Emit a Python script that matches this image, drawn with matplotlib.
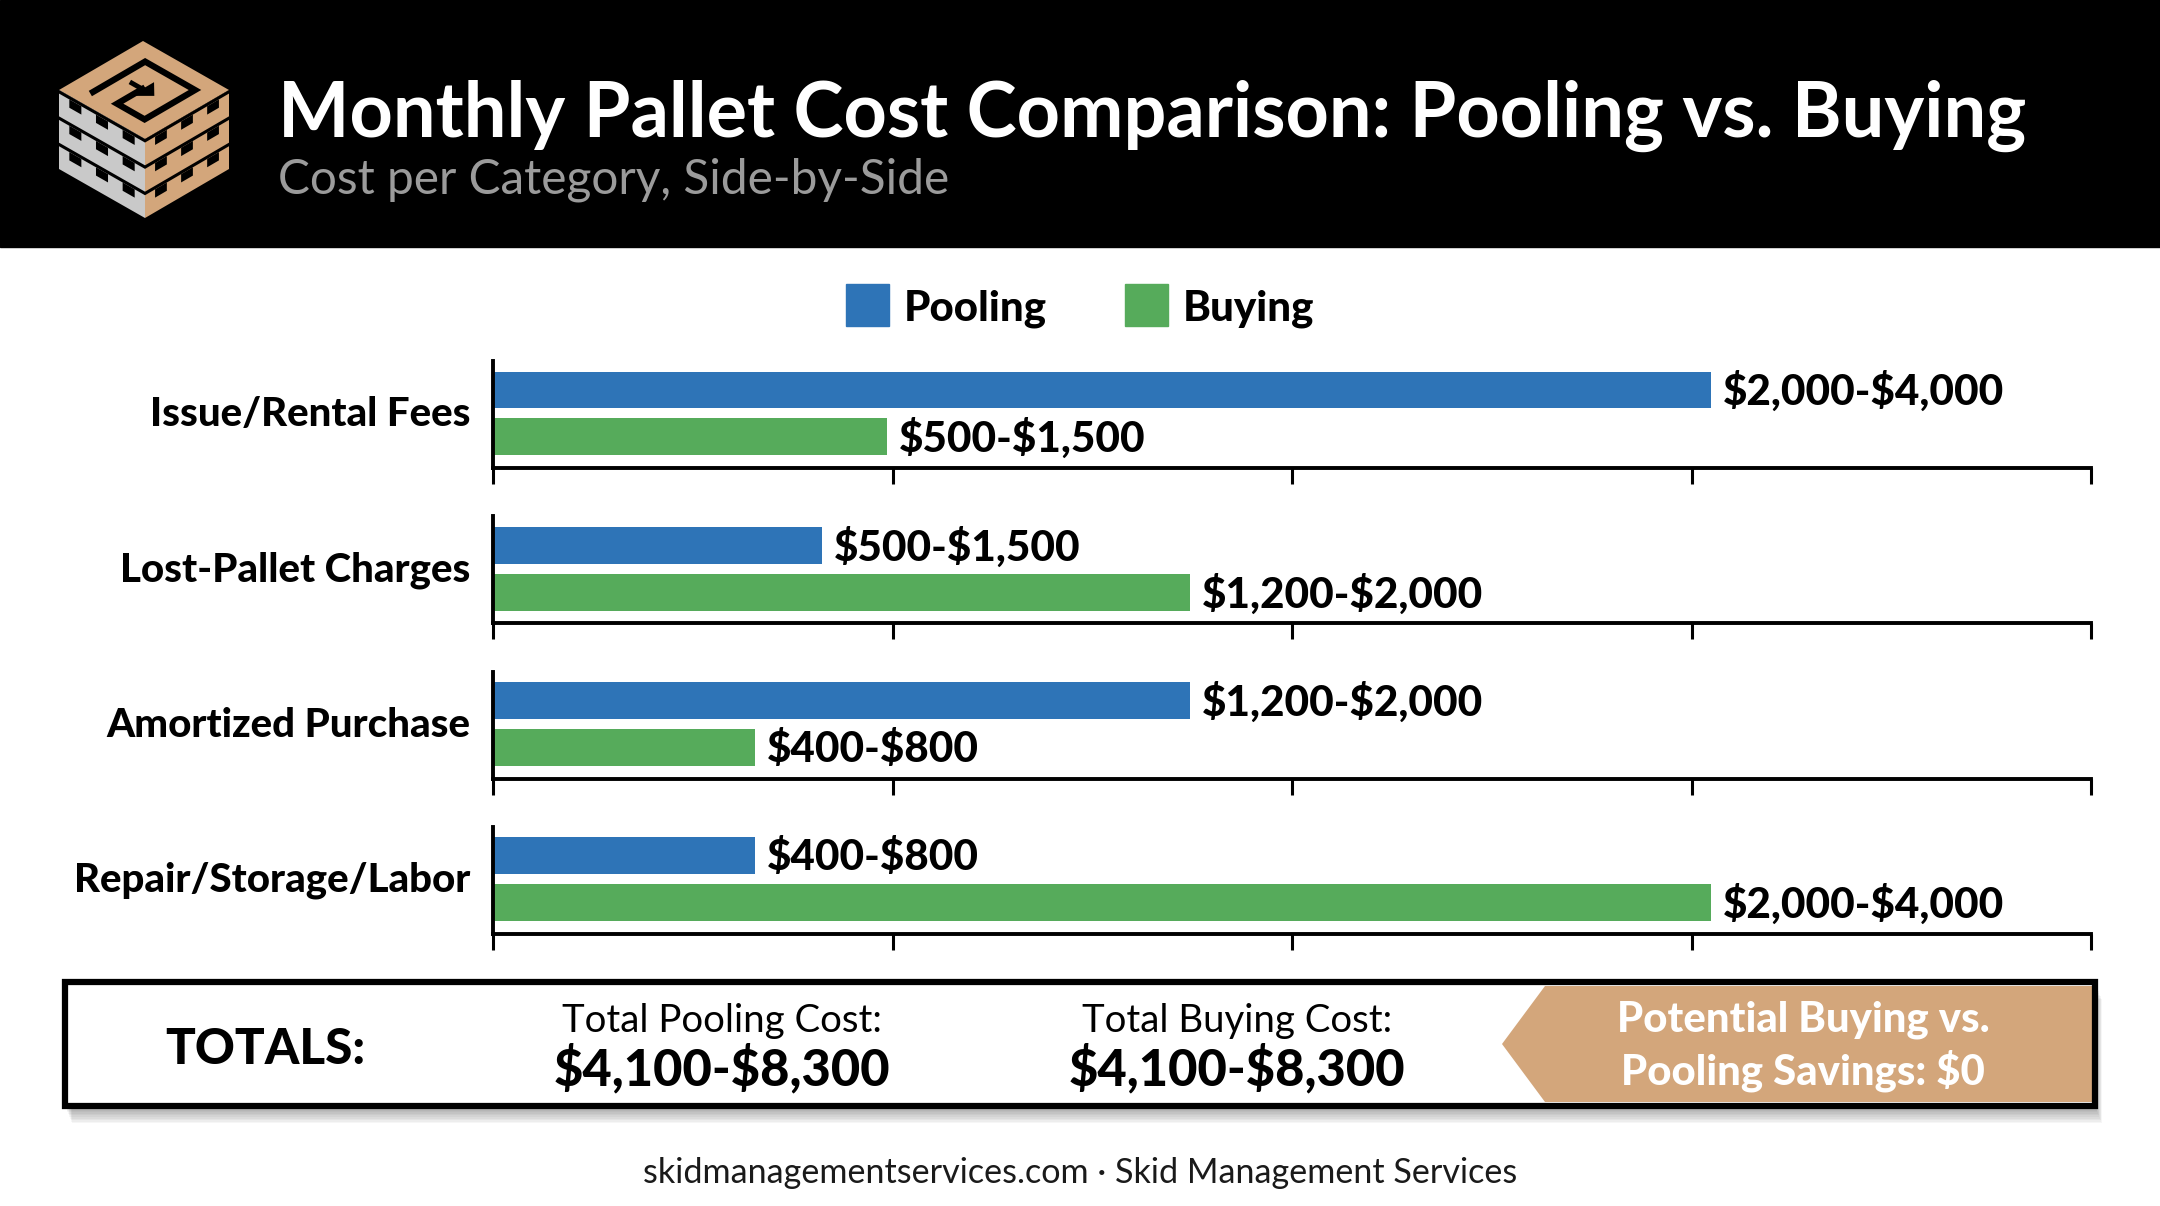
import matplotlib
matplotlib.use("Agg")
import matplotlib.pyplot as plt
from matplotlib.patches import Rectangle, Polygon

plt.rcParams['text.parse_math'] = False
plt.rcParams['font.family'] = ['Lato', 'DejaVu Sans']

# ---------------- data ----------------
categories = ["Issue/Rental Fees", "Lost-Pallet Charges", "Amortized Purchase", "Repair/Storage/Labor"]
series = ["Pooling", "Buying"]
pool_low = [2000, 500, 1200, 400]
pool_high = [4000, 1500, 2000, 800]
buy_low = [500, 1200, 400, 2000]
buy_high = [1500, 2000, 800, 4000]
# bar lengths as drawn in the picture
pool_bar = [3050, 824, 1745, 656]
buy_bar = [987, 1745, 656, 3050]
x_ticks = [0, 1000, 2000, 3000, 4000]

title = "Monthly Pallet Cost Comparison: Pooling vs. Buying"
subtitle = "Cost per Category, Side-by-Side"
footer = "skidmanagementservices.com \u00b7 Skid Management Services"

C_POOL = "#2E74B7"
C_BUY = "#56AB5B"
C_TAN = "#D3A67B"
C_GRAY_LOGO = "#C9C9C9"
HEAVY = "black"

W, H = 2160, 1206
fig = plt.figure(figsize=(W / 100, H / 100), dpi=100)
fig.patch.set_facecolor("white")
bg = fig.add_axes([0, 0, 1, 1], zorder=0)
bg.set_xlim(0, W)
bg.set_ylim(H, 0)
bg.axis("off")

renderer = fig.canvas.get_renderer()


def fit(t, width):
    bb = t.get_window_extent(renderer=renderer)
    t.set_fontsize(t.get_fontsize() * width / bb.width)
    return t.get_fontsize()


# ---------------- header ----------------
bg.add_patch(Rectangle((0, 0), W, 247, color="black", zorder=1))
t = bg.text(278, 137, title, color="white", fontweight="bold", fontsize=50,
            ha="left", va="baseline", zorder=3)
fit(t, 1750)
t = bg.text(278, 194, subtitle, color="#9B9B9B", fontsize=30,
            ha="left", va="baseline", zorder=3)
fit(t, 670)

# ---------------- logo ----------------
TOP = (143, 41)
R = (229, 90)
L = (59, 90)
C = (145, 139)
HS = 79


def tp(u, v):
    return (TOP[0] + u * (R[0] - TOP[0]) + v * (L[0] - TOP[0]),
            TOP[1] + u * (R[1] - TOP[1]) + v * (L[1] - TOP[1]))


def lp(a, b):
    return (L[0] + a * (C[0] - L[0]), L[1] + a * (C[1] - L[1]) + b * HS)


def rp(a, b):
    return (C[0] + a * (R[0] - C[0]), C[1] + a * (R[1] - C[1]) + b * HS)


def quad(f, a0, a1, b0, b1, color, z=3):
    bg.add_patch(Polygon([f(a0, b0), f(a1, b0), f(a1, b1), f(a0, b1)],
                         closed=True, facecolor=color, edgecolor="none", zorder=z))


quad(tp, 0, 1, 0, 1, C_TAN)
quad(lp, 0, 1, 0, 1, C_GRAY_LOGO)
quad(rp, 0, 1, 0, 1, C_TAN)
# layer separators
for k in range(3):
    b0 = k / 3
    quad(lp, 0, 1, b0, b0 + 0.045, "black", 4)
    quad(rp, 0, 1, b0, b0 + 0.045, "black", 4)
    for a0, a1 in [(0.12, 0.26), (0.43, 0.57), (0.74, 0.88)]:
        quad(lp, a0, a1, b0 + 0.045, b0 + 0.15, "black", 4)
        quad(rp, a0, a1, b0 + 0.045, b0 + 0.15, "black", 4)
# top spiral + arrow
spiral = [(0.22, 0.82), (0.22, 0.2), (0.8, 0.2), (0.8, 0.8), (0.48, 0.8), (0.48, 0.5)]
bg.plot([tp(u, v)[0] for u, v in spiral], [tp(u, v)[1] for u, v in spiral],
        color="black", lw=4.5, solid_joinstyle="miter", zorder=5)
bg.add_patch(Polygon([tp(0.62, 0.5), tp(0.48, 0.36), tp(0.48, 0.64)], closed=True,
                     facecolor="black", zorder=5))
bg.plot([tp(0.36, 0.5)[0], tp(0.5, 0.5)[0]], [tp(0.36, 0.5)[1], tp(0.5, 0.5)[1]],
        color="black", lw=3.5, zorder=5)

# ---------------- legend ----------------
leg_x = [846, 1125]
for name, col, x in zip(series, [C_POOL, C_BUY], leg_x):
    bg.add_patch(Rectangle((x, 284), 43, 42, color=col, zorder=3))
    t = bg.text(x + 58, 320, name, fontweight=HEAVY, fontsize=28, color="black",
                ha="left", va="baseline", zorder=3)
    if name == "Pooling":
        leg_fs = fit(t, 143)
    else:
        t.set_fontsize(leg_fs)

# ---------------- panels ----------------
AX_L, AX_R = 493, 2091
PANEL_H = 107
cat_texts = []
val_texts = []
for i, cat in enumerate(categories):
    top = 361 + i * 155.3
    ax = fig.add_axes([AX_L / W, 1 - (top + PANEL_H) / H, (AX_R - AX_L) / W, PANEL_H / H], zorder=2)
    ax.patch.set_alpha(0)
    ax.barh([1], [pool_bar[i]], height=0.787, color=C_POOL)
    ax.barh([0], [buy_bar[i]], height=0.787, color=C_BUY)
    ax.set_xlim(x_ticks[0], x_ticks[-1])
    ax.set_ylim(-0.66, 1.617)
    for s in ["top", "right"]:
        ax.spines[s].set_visible(False)
    for s in ["left", "bottom"]:
        ax.spines[s].set_linewidth(2.8)
        ax.spines[s].set_color("black")
        ax.spines[s].set_capstyle("projecting")
    ax.set_xticks(x_ticks)
    ax.set_xticklabels([])
    ax.set_yticks([])
    ax.tick_params(axis="x", length=11.5, width=2.2, color="black", direction="out")
    for y, val, lo, hi in [(1, pool_bar[i], pool_low[i], pool_high[i]),
                           (0, buy_bar[i], buy_low[i], buy_high[i])]:
        vt = ax.annotate(f"${lo:,}-${hi:,}", xy=(val, y), xytext=(8.5, -1.2),
                         textcoords="offset points", ha="left", va="center",
                         fontweight=HEAVY, fontsize=28, color="black")
        val_texts.append(vt)
    ct = bg.text(470, top + 65, cat, fontweight=HEAVY, fontsize=28, color="black",
                 ha="right", va="baseline", zorder=3)
    cat_texts.append(ct)

fs = fit(cat_texts[3], 398)
for ct in cat_texts:
    ct.set_fontsize(fs)
fs = fit(val_texts[0], 280)
for vt in val_texts:
    vt.set_fontsize(fs)

# ---------------- totals box ----------------
tot_pool = (sum(pool_low), sum(pool_high))
tot_buy = (sum(buy_low), sum(buy_high))
savings = tot_pool[0] - tot_buy[0]

BX0, BY0, BX1, BY1 = 65, 982, 2095, 1106
for k in range(10):
    off = 3 + k * 1.6
    bg.add_patch(Rectangle((BX0 + off * 0.4, BY0 + off), BX1 - BX0, BY1 - BY0,
                           facecolor="black", alpha=0.035, edgecolor="none", zorder=1))
bg.add_patch(Rectangle((BX0, BY0), BX1 - BX0, BY1 - BY0, facecolor="white",
                       edgecolor="none", zorder=2))
bg.add_patch(Polygon([(1502, 1044), (1545, 986), (BX1 - 3, 986), (BX1 - 3, 1102),
                      (1545, 1102)], closed=True, facecolor=C_TAN, edgecolor="none", zorder=3))
bg.add_patch(Rectangle((BX0, BY0), BX1 - BX0, BY1 - BY0, facecolor="none",
                       edgecolor="black", linewidth=4.5, zorder=4))

t = bg.text(265, 1050, "TOTALS:", fontweight=HEAVY, fontsize=30, ha="center",
            va="center", color="black", zorder=5)
fit(t, 200)
t1 = bg.text(722, 1021, "Total Pooling Cost:", fontsize=24, ha="center", va="center",
             color="black", zorder=5)
lab_fs = fit(t1, 320)
t2 = bg.text(1237, 1021, "Total Buying Cost:", fontsize=lab_fs, ha="center", va="center",
             color="black", zorder=5)
v1 = bg.text(722, 1069, f"${tot_pool[0]:,}-${tot_pool[1]:,}", fontweight=HEAVY, fontsize=30,
             ha="center", va="center", color="black", zorder=5)
val_fs = fit(v1, 336)
bg.text(1237, 1069, f"${tot_buy[0]:,}-${tot_buy[1]:,}", fontweight=HEAVY, fontsize=val_fs,
        ha="center", va="center", color="black", zorder=5)
a1 = bg.text(1803, 1020, "Potential Buying vs.", fontweight=HEAVY, fontsize=28,
             ha="center", va="center", color="white", zorder=5)
afs = fit(a1, 373)
bg.text(1803, 1071, f"Pooling Savings: ${abs(savings):,}", fontweight=HEAVY, fontsize=afs,
        ha="center", va="center", color="white", zorder=5)

# ---------------- footer ----------------
t = bg.text(1080, 1173, footer, fontsize=22, ha="center", va="center", color="#1a1a1a", zorder=3)
fit(t, 873)

fig.savefig("out.png", dpi=100, facecolor="white")
